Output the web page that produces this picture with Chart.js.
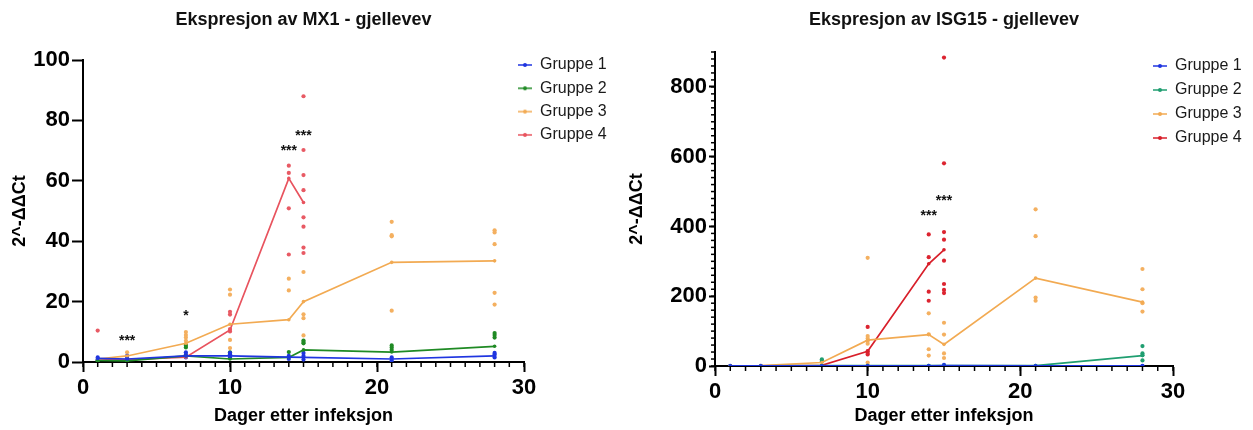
<!DOCTYPE html>
<html>
<head>
<meta charset="utf-8">
<script src="https://cdn.jsdelivr.net/npm/chart.js@4.4.1/dist/chart.umd.min.js"></script>
<style>
  body { margin: 0; background: #fff; }
  canvas { position: absolute; top: 0; }
  #mx1 { left: 0; }
  #isg15 { left: 620px; }
</style>
</head>
<body>
<canvas id="mx1" width="620" height="430"></canvas>
<canvas id="isg15" width="633" height="430"></canvas>
<script>
//DATA
const days = [1, 3, 7, 10, 14, 15, 21, 28];
const groupLabels = ['Gruppe 1', 'Gruppe 2', 'Gruppe 3', 'Gruppe 4'];

// MX1 - medie per gruppo
const mx1Gruppe1 = [1.2, 1.0, 2.0, 2.0, 1.6, 1.5, 1.0, 2.0];
const mx1Gruppe2 = [0.5, 0.4, 2.0, 1.0, 1.5, 4.0, 3.3, 5.2];
const mx1Gruppe3 = [1.0, 2.0, 6.2, 12.5, 14.0, 20.0, 33.0, 33.5];
const mx1Gruppe4 = [1.0, 0.8, 1.6, 10.6, 60.8, 52.8, null, null];

// MX1 - singoli campioni [giorno, valore]
const mx1Punti1 = [[1, 0.8], [1, 1.5], [3, 0.6], [3, 1.3], [3, 2], [7, 1.5], [7, 2.5], [7, 3.2], [10, 1.5], [10, 2.5], [10, 3], [14, 1], [14, 2], [15, 0.8], [15, 2], [15, 3], [21, 0.5], [21, 1.5], [28, 1.5], [28, 2.5], [28, 3]];
const mx1Punti2 = [[1, 0.3], [1, 0.6], [3, 0.3], [3, 0.5], [7, 4.8], [7, 5.4], [10, 2.5], [10, 3.2], [14, 3.3], [15, 6.2], [15, 6.6], [15, 7.1], [21, 4.0], [21, 4.8], [21, 5.5], [28, 8.1], [28, 8.9], [28, 9.6]];
const mx1Punti3 = [[3, 3.2], [7, 5.8], [7, 7], [7, 8.1], [7, 8.9], [7, 9.9], [10, 4.6], [10, 7.3], [10, 22.3], [10, 24], [14, 23.7], [14, 27.6], [15, 8.8], [15, 14.5], [15, 15.8], [15, 29.8], [21, 17], [21, 41.6], [21, 42], [21, 46.4], [28, 19], [28, 22.9], [28, 39], [28, 42.9], [28, 43.6]];
const mx1Punti4 = [[1, 10.4], [10, 10.1], [10, 10.9], [10, 15.7], [10, 16.6], [14, 35.6], [14, 50.9], [14, 62.6], [14, 65], [15, 36.1], [15, 37.9], [15, 44.8], [15, 47.9], [15, 56.9], [15, 61.9], [15, 70.2], [15, 88]];

// MX1 - significativita
const mx1StarDays = [3, 7, 14, 15];
const mx1StarY = [7, 15.3, 69.8, 74.8];
const mx1StarText = ['***', '*', '***', '***'];

// ISG15 - medie per gruppo
const isgGruppe1 = [0.5, 0.5, 0.5, 0.5, 0.5, 0.8, 0.5, 0.5];
const isgGruppe2 = [0.3, 0.3, 1, 1, 1, 1, 1, 30];
const isgGruppe3 = [0.5, 1, 10, 74, 90, 62, 252, 183];
const isgGruppe4 = [0.5, 0.5, 2, 42, 293, 333, null, null];

// ISG15 - singoli campioni [giorno, valore]
const isgPunti1 = [[1, 0.5], [3, 0.5], [7, 0.5], [10, 0.5], [14, 0.5], [15, 1], [15, 3], [21, 0.5], [28, 0.5]];
const isgPunti2 = [[7, 13], [7, 19], [28, 16], [28, 31], [28, 36], [28, 57]];
const isgPunti3 = [[7, 16], [10, 10], [10, 64], [10, 72], [10, 79], [10, 86], [10, 310], [14, 30], [14, 48], [14, 91], [14, 151], [15, 23], [15, 36], [15, 90], [15, 124], [21, 187], [21, 196], [21, 372], [21, 449], [28, 156], [28, 180], [28, 220], [28, 278]];
const isgPunti4 = [[10, 33], [10, 37], [10, 43], [10, 112], [14, 187], [14, 213], [14, 312], [14, 377], [15, 209], [15, 218], [15, 235], [15, 302], [15, 362], [15, 384], [15, 581], [15, 884]];

// ISG15 - significativita
const isgStarDays = [14, 15];
const isgStarY = [430, 473];
const isgStarText = ['***', '***'];
//END DATA

const FONT = "'Liberation Sans', Arial, sans-serif";
Chart.defaults.font.family = FONT;

const toXY = (values) => days.map((d, i) => ({ x: d, y: values[i] })).filter((p) => p.y !== null);
const pairsXY = (pairs) => pairs.map((p) => ({ x: p[0], y: p[1] }));

// piccola icona legenda: linea con punto
function legendMarker(color) {
  const c = document.createElement('canvas');
  c.width = 14;
  c.height = 6;
  const g = c.getContext('2d');
  g.strokeStyle = color;
  g.lineWidth = 1.5;
  g.beginPath();
  g.moveTo(0, 3);
  g.lineTo(14, 3);
  g.stroke();
  g.fillStyle = color;
  g.beginPath();
  g.arc(7, 3, 2, 0, Math.PI * 2);
  g.fill();
  return c;
}

//PLUGINS
const starsPlugin = {
  id: 'stars',
  afterDatasetsDraw(chart, args, opts) {
    const { ctx, scales } = chart;
    ctx.save();
    ctx.font = 'bold 14px ' + FONT;
    ctx.fillStyle = '#111';
    ctx.textAlign = 'center';
    ctx.textBaseline = 'middle';
    opts.days.forEach((d, i) => {
      ctx.fillText(opts.text[i], scales.x.getPixelForValue(d), scales.y.getPixelForValue(opts.y[i]));
    });
    ctx.restore();
  },
};

const minorTicksPlugin = {
  id: 'minorTicks',
  beforeDatasetsDraw(chart, args, opts) {
    const { ctx, chartArea, scales } = chart;
    ctx.save();
    ctx.strokeStyle = '#000';
    ctx.lineWidth = 1.5;
    if (opts.xStep) {
      for (let v = scales.x.min; v <= scales.x.max; v += opts.xStep) {
        const px = scales.x.getPixelForValue(v);
        ctx.beginPath();
        ctx.moveTo(px, chartArea.bottom);
        ctx.lineTo(px, chartArea.bottom + opts.xLen);
        ctx.stroke();
      }
    }
    if (opts.yStep) {
      for (let v = scales.y.min; v <= scales.y.max; v += opts.yStep) {
        const py = scales.y.getPixelForValue(v);
        ctx.beginPath();
        ctx.moveTo(chartArea.left, py);
        ctx.lineTo(chartArea.left - opts.yLen, py);
        ctx.stroke();
      }
    }
    ctx.restore();
  },
};

// sposta la legenda dove sta nel grafico originale
const legendSpotPlugin = {
  id: 'legendSpot',
  afterLayout(chart, args, opts) {
    const lg = chart.legend;
    if (!lg) return;
    const pad = lg.options.labels.padding;
    const half = lg.options.labels.font.size / 2;
    const dx = opts.markerX - pad - lg.left;
    const dy = opts.firstRowY - half - pad - lg.top;
    lg.left += dx;
    lg.right += dx;
    lg.top += dy;
    lg.bottom += dy;
    (lg.legendHitBoxes || []).forEach((b) => {
      b.left += dx;
      b.top += dy;
    });
  },
};

function makeChart(id, cfg) {
  const markers = cfg.colors.map(legendMarker);
  const lineSets = cfg.means.map((vals, i) => ({
    label: groupLabels[i],
    data: toXY(vals),
    showLine: true,
    borderColor: cfg.colors[i],
    backgroundColor: cfg.colors[i],
    borderWidth: 1.7,
    pointRadius: 1.8,
    pointBorderWidth: 0,
  }));
  const dotSets = cfg.points.map((pts, i) => ({
    label: '',
    data: pairsXY(pts),
    showLine: false,
    backgroundColor: cfg.dotColors[i],
    pointRadius: 2.1,
    pointBorderWidth: 0,
  }));

  return new Chart(document.getElementById(id), {
    type: 'scatter',
    data: { datasets: lineSets.concat(dotSets) },
    plugins: [starsPlugin, minorTicksPlugin, legendSpotPlugin],
    options: {
      responsive: false,
      animation: false,
      layout: { padding: { left: 0, top: 0, bottom: 0, right: cfg.rightPad } },
      scales: {
        x: {
          type: 'linear',
          min: 0,
          max: 30,
          afterFit: (s) => { s.height = cfg.xHeight; },
          ticks: {
            stepSize: 10,
            color: '#000',
            font: { size: 22, weight: 'bold' },
            padding: 3,
            maxRotation: 0,
          },
          grid: { drawOnChartArea: false, tickLength: 10, tickColor: '#000', tickWidth: 2 },
          border: { color: '#000', width: 2 },
          title: {
            display: true,
            text: 'Dager etter infeksjon',
            color: '#000',
            font: { size: 18, weight: 'bold' },
            padding: { top: 0, bottom: 3.2 },
          },
        },
        y: {
          type: 'linear',
          min: 0,
          max: cfg.yMax,
          afterFit: (s) => { s.width = cfg.yWidth; },
          ticks: {
            stepSize: cfg.yStep,
            color: '#000',
            font: { size: 22, weight: 'bold' },
            padding: 2,
            callback: (v) => (v % cfg.yLabelEvery === 0 ? v : ''),
          },
          grid: {
            drawOnChartArea: false,
            tickLength: cfg.yTickLen,
            tickWidth: 2,
            tickColor: (c) => (c.tick && c.tick.value % cfg.yLabelEvery === 0 ? '#000' : 'rgba(0,0,0,0)'),
          },
          border: { color: '#000', width: 2 },
          title: {
            display: true,
            text: '2^-ΔΔCt',
            color: '#000',
            font: { size: 18, weight: 'bold' },
            padding: { top: cfg.yTitlePad, bottom: 0 },
          },
        },
      },
      plugins: {
        title: {
          display: true,
          text: cfg.title,
          color: '#111',
          fullSize: false,
          font: { size: 18, weight: 'bold' },
          padding: { top: 9.2, bottom: cfg.titleGap },
        },
        legend: {
          position: 'chartArea',
          align: 'start',
          labels: {
            usePointStyle: true,
            pointStyleWidth: 14,
            padding: cfg.legendPad,
            color: '#1a1a1a',
            font: { size: 16 },
            generateLabels: (chart) =>
              Chart.defaults.plugins.legend.labels
                .generateLabels(chart)
                .filter((l) => l.datasetIndex < 4)
                .map((l) => Object.assign(l, { pointStyle: markers[l.datasetIndex] })),
          },
        },
        tooltip: { enabled: false },
        stars: { days: cfg.starDays, y: cfg.starY, text: cfg.starText },
        minorTicks: cfg.minor,
        legendSpot: cfg.legendSpot,
      },
    },
  });
}

//GRAFICO MX1
makeChart('mx1', {
  title: 'Ekspresjon av MX1 - gjellevev',
  means: [mx1Gruppe1, mx1Gruppe2, mx1Gruppe3, mx1Gruppe4],
  points: [mx1Punti1, mx1Punti2, mx1Punti3, mx1Punti4],
  colors: ['#1f35e0', '#1f8a24', '#f2aa52', '#e8535e'],
  dotColors: ['#1f35e0', '#1f8a24', '#f4b060', '#e85a64'],
  starDays: mx1StarDays,
  starY: mx1StarY,
  starText: mx1StarText,
  yMax: 100,
  yStep: 20,
  yLabelEvery: 20,
  yTickLen: 11,
  yWidth: 83,
  yTitlePad: 9,
  xHeight: 68,
  titleGap: 29.2,
  rightPad: 96,
  legendPad: 7.3,
  legendSpot: { markerX: 518, firstRowY: 65 },
  minor: { xStep: 1, xLen: 5 },
});

//GRAFICO ISG15
makeChart('isg15', {
  title: 'Ekspresjon av ISG15 - gjellevev',
  means: [isgGruppe1, isgGruppe2, isgGruppe3, isgGruppe4],
  points: [isgPunti1, isgPunti2, isgPunti3, isgPunti4],
  colors: ['#1f35e0', '#1f9e70', '#f2aa52', '#d81f2a'],
  dotColors: ['#1f35e0', '#1f9e70', '#f4b060', '#dc2430'],
  starDays: isgStarDays,
  starY: isgStarY,
  starText: isgStarText,
  yMax: 900,
  yStep: 200,
  yLabelEvery: 200,
  yTickLen: 6,
  yWidth: 95,
  yTitlePad: 6,
  xHeight: 64,
  titleGap: 21.2,
  rightPad: 80,
  legendPad: 8,
  legendSpot: { markerX: 533, firstRowY: 66 },
  minor: { xStep: 1, xLen: 5, yStep: 20, yLen: 4 },
});
</script>
</body>
</html>
